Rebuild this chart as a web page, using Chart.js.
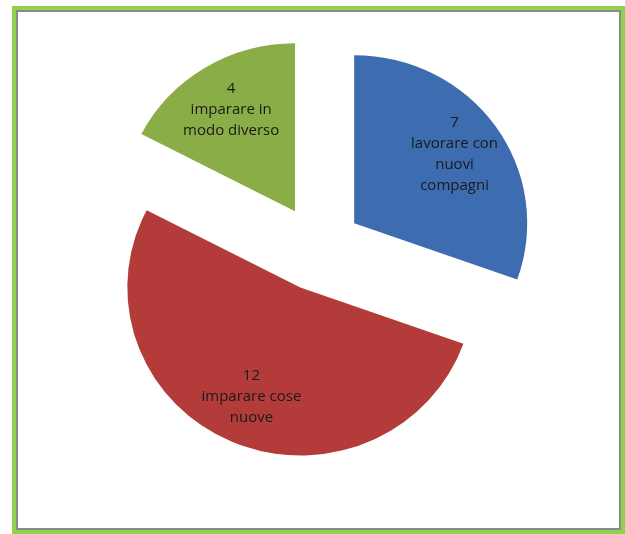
<!DOCTYPE html>
<html>
<head>
<meta charset="utf-8">
<script src="https://cdn.jsdelivr.net/npm/chart.js@4"></script>
<style>
  html, body { margin: 0; padding: 0; background: #fff; }
  #wrap { position: relative; width: 625px; height: 534px; overflow: hidden; }
  #frame { position: absolute; left: 12px; top: 6px; width: 613px; height: 528px;
           box-sizing: border-box; border: 4px solid #92d050; }
  #inner { position: absolute; left: 0; top: 0; right: 0; bottom: 0; border: 2px solid #8a8a8a; }
  #pieChart { position: absolute; left: 0; top: 0; }
</style>
</head>
<body>
<div id="wrap">
  <div id="frame"><div id="inner"></div></div>
  <canvas id="pieChart" width="625" height="534"></canvas>
</div>
<script>
var categories = ["lavorare con nuovi compagni", "imparare cose nuove", "imparare in modo diverso"];
var labelLines = [["lavorare con", "nuovi", "compagni"], ["imparare cose", "nuove"], ["imparare in", "modo diverso"]];
var values = [7, 12, 4];
var colors = ["#3d6cb0", "#b33c3a", "#8aad47"];
var explode = 43;
var stretchX = 1.03;   // the original pie is a little wider than tall

// push every slice out along its middle angle (Excel-style exploded pie)
var explodeSlices = {
  id: "explodeSlices",
  afterDatasetUpdate: function(chart, args) {
    var meta = chart.getDatasetMeta(args.index);
    meta.data.forEach(function(arc) {
      var mid = (arc.startAngle + arc.endAngle) / 2;
      arc.x += Math.cos(mid) * explode;
      arc.y += Math.sin(mid) * explode;
    });
  },
  beforeDatasetsDraw: function(chart) {
    var a = chart.chartArea;
    var cx = (a.left + a.right) / 2;
    chart.ctx.save();
    chart.ctx.translate(cx, 0);
    chart.ctx.scale(stretchX, 1);
    chart.ctx.translate(-cx, 0);
  },
  afterDatasetsDraw: function(chart) {
    chart.ctx.restore();
  }
};

// draws "value" + wrapped category inside each slice
var sliceLabels = {
  id: "sliceLabels",
  afterDatasetsDraw: function(chart) {
    var ctx = chart.ctx;
    var meta = chart.getDatasetMeta(0);
    var a = chart.chartArea;
    var pcx = (a.left + a.right) / 2;
    ctx.save();
    ctx.font = "15px 'Open Sans', sans-serif";
    ctx.fillStyle = "#1a1a1a";
    ctx.textAlign = "center";
    ctx.textBaseline = "middle";
    meta.data.forEach(function(arc, i) {
      var mid = (arc.startAngle + arc.endAngle) / 2;
      var d = arc.outerRadius * 0.71;
      var cx = pcx + stretchX * (arc.x + Math.cos(mid) * d - pcx);
      var cy = arc.y + Math.sin(mid) * d;
      var lines = [String(values[i])].concat(labelLines[i]);
      var lh = 21;
      var top = cy - (lines.length - 1) * lh / 2;
      lines.forEach(function(t, j) {
        ctx.fillText(t, cx, top + j * lh);
      });
    });
    ctx.restore();
  }
};

new Chart(document.getElementById("pieChart").getContext("2d"), {
  type: "pie",
  data: {
    labels: categories,
    datasets: [{
      data: values,
      backgroundColor: colors,
      borderWidth: 0
    }]
  },
  options: {
    responsive: false,
    animation: false,
    radius: 168,
    layout: { padding: { left: 11, right: 0, top: 0, bottom: 38 } },
    plugins: {
      legend: { display: false },
      title: { display: false },
      tooltip: { enabled: false }
    }
  },
  plugins: [explodeSlices, sliceLabels]
});
</script>
</body>
</html>
